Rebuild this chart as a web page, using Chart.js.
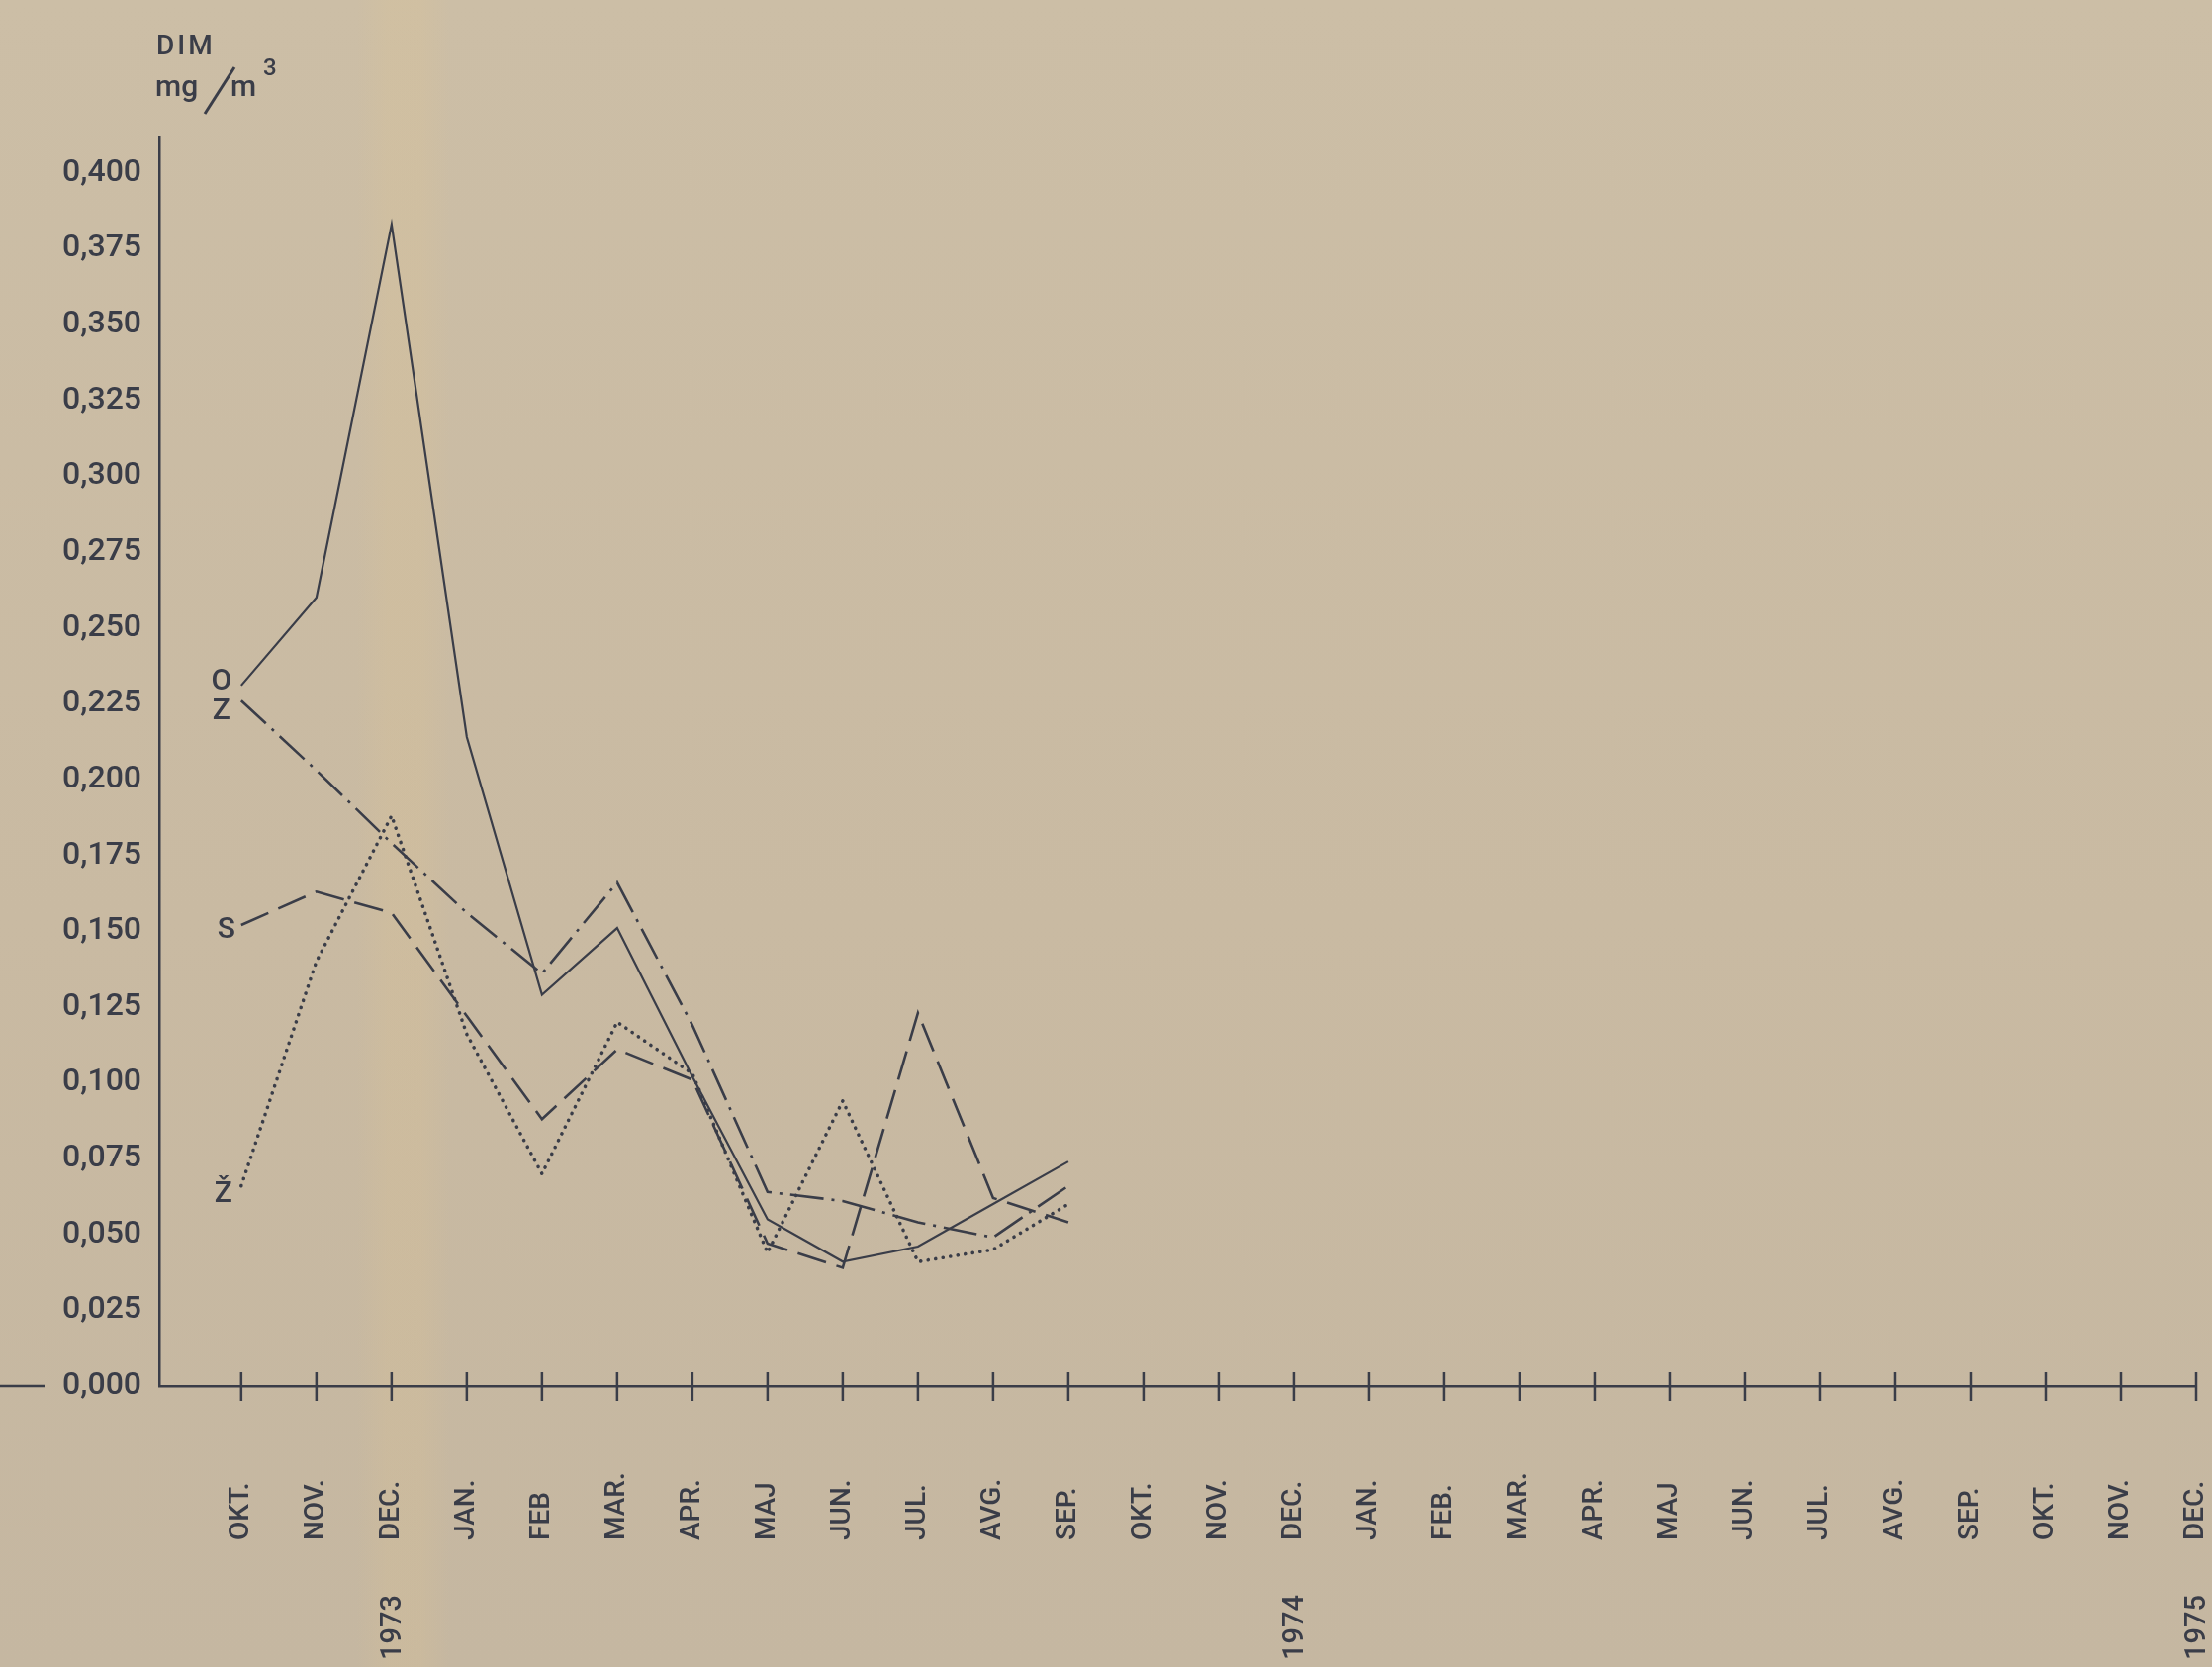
<!DOCTYPE html>
<html lang="sl">
<head>
<meta charset="utf-8">
<title>DIM mg/m3</title>
<script src="https://cdn.jsdelivr.net/npm/chart.js@4.4.1/dist/chart.umd.min.js"></script>
<style>
  html, body { margin: 0; padding: 0; }
  body {
    width: 2236px; height: 1685px; overflow: hidden;
    background:
      linear-gradient(90deg, rgba(230,200,140,0) 360px, rgba(230,200,140,0.16) 392px, rgba(230,200,140,0.16) 425px, rgba(230,200,140,0) 455px),
      linear-gradient(180deg, #ccbea6 0%, #c9baa2 55%, #c5b7a1 100%);
  }
  canvas { display: block; }
</style>
</head>
<body>
<canvas id="c" width="2236" height="1685"></canvas>
<script>
// Month scale: October 1972 .. December 1975
const months = ['OKT.', 'NOV.', 'DEC.', 'JAN.', 'FEB', 'MAR.', 'APR.', 'MAJ', 'JUN.', 'JUL.', 'AVG.', 'SEP.',
                'OKT.', 'NOV.', 'DEC.', 'JAN.', 'FEB.', 'MAR.', 'APR.', 'MAJ', 'JUN.', 'JUL.', 'AVG.', 'SEP.',
                'OKT.', 'NOV.', 'DEC.'];
const years = ['1973', '1974', '1975'];
const yearMonthIndex = [2, 14, 26];

// Value axis (mg/m3)
const yTickValues = [0, 0.025, 0.05, 0.075, 0.1, 0.125, 0.15, 0.175, 0.2, 0.225, 0.25, 0.275, 0.3, 0.325, 0.35, 0.375, 0.4];

// Measuring stations
const seriesNames = ['O', 'Z', 'S', 'Ž'];
const valuesO = [0.231, 0.260, 0.383, 0.214, 0.129, 0.151, 0.102, 0.055, 0.041, 0.046, 0.060, 0.074];
const valuesZ = [0.226, 0.203, 0.179, 0.156, 0.136, 0.166, 0.119, 0.064, 0.061, 0.054, 0.049, 0.066];
const valuesS = [0.152, 0.163, 0.156, 0.122, 0.088, 0.111, 0.101, 0.047, 0.039, 0.123, 0.062, 0.054];
const valuesZh = [0.066, 0.140, 0.188, 0.116, 0.070, 0.120, 0.103, 0.044, 0.094, 0.041, 0.045, 0.060];

const ink = '#3a3d48';
const toPoints = arr => arr.map((v, i) => ({ x: i, y: v }));
const fmt = v => v.toFixed(3).replace('.', ',');

// name label placement next to each line's first point (dx, baseline dy)
const nameOffsets = [[-20, 4], [-20, 19], [-15, 13], [-18, 16]];

const paperMarks = {
  id: 'paperMarks',
  afterDraw(chart) {
    const { ctx, scales: { x, y } } = chart;
    const y0 = y.getPixelForValue(0);
    ctx.save();
    ctx.strokeStyle = ink;
    ctx.fillStyle = ink;
    ctx.lineWidth = 2.5;

    // baseline stub left of the value labels
    ctx.beginPath(); ctx.moveTo(0, y0); ctx.lineTo(45, y0); ctx.stroke();

    // month tick marks crossing the baseline
    x.ticks.forEach(t => {
      const px = x.getPixelForValue(t.value);
      ctx.beginPath(); ctx.moveTo(px, y0 - 14); ctx.lineTo(px, y0 + 15); ctx.stroke();
    });

    // month names, written upward
    ctx.font = '500 28px Roboto';
    ctx.textAlign = 'left';
    ctx.textBaseline = 'middle';
    x.ticks.forEach(t => {
      const px = x.getPixelForValue(t.value);
      ctx.save();
      ctx.translate(px, y0 + 156);
      ctx.rotate(-Math.PI / 2);
      ctx.fillText(months[t.value], 0, 0);
      ctx.restore();
    });

    // years under each December
    ctx.font = '500 29px Roboto';
    yearMonthIndex.forEach((m, i) => {
      const px = x.getPixelForValue(m);
      ctx.save();
      ctx.translate(px + 2, y0 + 277);
      ctx.rotate(-Math.PI / 2);
      ctx.fillText(years[i], 0, 0);
      ctx.restore();
    });

    // station names at the start of each line
    ctx.font = '500 30px Roboto';
    ctx.textAlign = 'center';
    ctx.textBaseline = 'alphabetic';
    chart.data.datasets.forEach((ds, i) => {
      const p = chart.getDatasetMeta(i).data[0];
      ctx.fillText(seriesNames[i], p.x + nameOffsets[i][0], p.y + nameOffsets[i][1]);
    });

    // axis heading: DIM  mg/m3
    ctx.textAlign = 'left';
    ctx.font = '500 28px Roboto';
    if ('letterSpacing' in ctx) ctx.letterSpacing = '3px';
    ctx.fillText('DIM', 158, 55);
    if ('letterSpacing' in ctx) ctx.letterSpacing = '0px';
    ctx.font = '500 30px Roboto';
    ctx.fillText('mg', 157, 97);
    ctx.lineWidth = 3;
    ctx.beginPath(); ctx.moveTo(207, 115); ctx.lineTo(237, 68); ctx.stroke();
    ctx.fillText('m', 233, 97);
    ctx.font = '500 24px Roboto';
    ctx.fillText('3', 266, 76);
    ctx.restore();
  }
};

new Chart(document.getElementById('c'), {
  type: 'line',
  data: {
    datasets: [
      { label: seriesNames[0], data: toPoints(valuesO), borderColor: ink, borderWidth: 2.2 },
      { label: seriesNames[1], data: toPoints(valuesZ), borderColor: ink, borderWidth: 2.6, borderDash: [34, 8, 3, 8] },
      { label: seriesNames[2], data: toPoints(valuesS), borderColor: ink, borderWidth: 2.6, borderDash: [30, 11] },
      { label: seriesNames[3], data: toPoints(valuesZh), borderColor: ink, borderWidth: 3.6, borderDash: [0.1, 7.5], borderCapStyle: 'round' }
    ]
  },
  options: {
    responsive: false,
    animation: false,
    devicePixelRatio: 1,
    layout: { padding: { top: 138, right: 16, left: 0, bottom: 0 } },
    elements: { point: { radius: 0, hoverRadius: 0 }, line: { tension: 0, fill: false } },
    plugins: { legend: { display: false }, tooltip: { enabled: false } },
    scales: {
      x: {
        type: 'linear',
        min: -1.09,
        max: 26,
        afterBuildTicks: s => { s.ticks = months.map((m, i) => ({ value: i })); },
        afterFit: s => { s.height = 284; },
        ticks: { display: false },
        grid: { display: false, drawTicks: false },
        border: { display: true, color: ink, width: 2.5 }
      },
      y: {
        type: 'linear',
        min: 0,
        max: 0.412,
        afterBuildTicks: s => { s.ticks = yTickValues.map(v => ({ value: v })); },
        afterFit: s => { s.width = 161; },
        ticks: {
          padding: 18,
          color: ink,
          font: { family: 'Roboto', size: 32, weight: 500 },
          callback: v => fmt(v)
        },
        grid: { display: false, drawTicks: false },
        border: { display: true, color: ink, width: 2.5 }
      }
    }
  },
  plugins: [paperMarks]
});
</script>
</body>
</html>
